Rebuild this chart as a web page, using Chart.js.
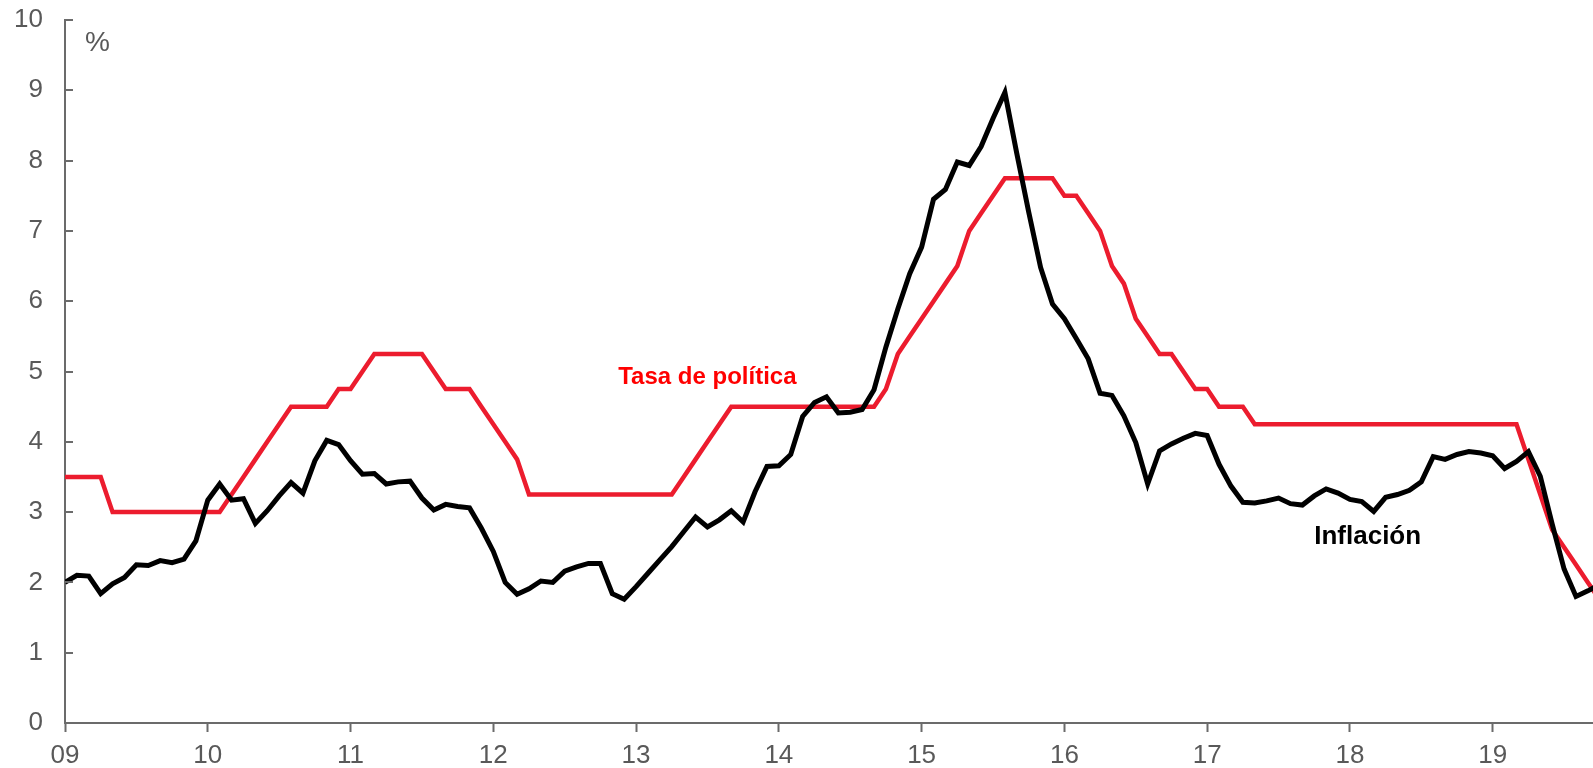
<!DOCTYPE html>
<html>
<head>
<meta charset="utf-8">
<script src="https://cdn.jsdelivr.net/npm/chart.js@4/dist/chart.umd.min.js"></script>
<style>
  html, body { margin: 0; padding: 0; background: #ffffff; }
  canvas { display: block; }
</style>
</head>
<body>
<canvas id="chart" width="1593" height="768"></canvas>
<script>
// ---- Data (monthly, first point = tick "09") ----
const yearLabels = ['09', '10', '11', '12', '13', '14', '15', '16', '17', '18', '19'];
const yTickValues = [0, 1, 2, 3, 4, 5, 6, 7, 8, 9, 10];
const seriesNames = ['Inflación', 'Tasa de política'];

const inflation = [
  2.00,
  2.10, 2.09, 1.84, 1.98, 2.07, 2.25, 2.24, 2.31, 2.28, 2.33, 2.59, 3.17,
  3.40, 3.17, 3.19, 2.84, 3.02, 3.23, 3.42, 3.27, 3.73, 4.02, 3.96, 3.73,
  3.54, 3.55, 3.40, 3.43, 3.44, 3.20, 3.03, 3.11, 3.08, 3.06, 2.77, 2.44,
  2.00, 1.83, 1.91, 2.02, 2.00, 2.16, 2.22, 2.27, 2.27, 1.84, 1.76, 1.94,
  2.13, 2.32, 2.51, 2.72, 2.93, 2.79, 2.89, 3.02, 2.86, 3.29, 3.65, 3.66,
  3.82, 4.36, 4.56, 4.64, 4.41, 4.42, 4.46, 4.74, 5.35, 5.89, 6.39, 6.77,
  7.45, 7.59, 7.98, 7.93, 8.20, 8.60, 8.97, 8.10, 7.27, 6.48, 5.96, 5.75,
  5.47, 5.18, 4.69, 4.66, 4.37, 3.99, 3.40, 3.87, 3.97, 4.05, 4.12, 4.09,
  3.68, 3.37, 3.14, 3.13, 3.16, 3.20, 3.12, 3.10, 3.23, 3.33, 3.27, 3.18,
  3.15, 3.01, 3.21, 3.25, 3.31, 3.43, 3.79, 3.75, 3.82, 3.86, 3.84, 3.80,
  3.62, 3.72, 3.86, 3.51, 2.83, 2.19, 1.80, 1.88, 1.97
];

const policyRate = [
  3.50,
  3.50, 3.50, 3.50, 3.00, 3.00, 3.00, 3.00, 3.00, 3.00, 3.00, 3.00, 3.00,
  3.00, 3.25, 3.50, 3.75, 4.00, 4.25, 4.50, 4.50, 4.50, 4.50, 4.75, 4.75,
  5.00, 5.25, 5.25, 5.25, 5.25, 5.25, 5.00, 4.75, 4.75, 4.75, 4.50, 4.25,
  4.00, 3.75, 3.25, 3.25, 3.25, 3.25, 3.25, 3.25, 3.25, 3.25, 3.25, 3.25,
  3.25, 3.25, 3.25, 3.50, 3.75, 4.00, 4.25, 4.50, 4.50, 4.50, 4.50, 4.50,
  4.50, 4.50, 4.50, 4.50, 4.50, 4.50, 4.50, 4.50, 4.75, 5.25, 5.50, 5.75,
  6.00, 6.25, 6.50, 7.00, 7.25, 7.50, 7.75, 7.75, 7.75, 7.75, 7.75, 7.50,
  7.50, 7.25, 7.00, 6.50, 6.25, 5.75, 5.50, 5.25, 5.25, 5.00, 4.75, 4.75,
  4.50, 4.50, 4.50, 4.25, 4.25, 4.25, 4.25, 4.25, 4.25, 4.25, 4.25, 4.25,
  4.25, 4.25, 4.25, 4.25, 4.25, 4.25, 4.25, 4.25, 4.25, 4.25, 4.25, 4.25,
  4.25, 4.25, 3.75, 3.25, 2.75, 2.50, 2.25, 2.00, 1.75
];

// ---- Styles ----
const AXIS_COLOR = '#6b6b6b';
const LABEL_COLOR = '#595959';
const LINE_RED = '#EC1C2E';
const FONT = "'Liberation Sans', Arial, Helvetica, sans-serif";
const TICK_SIZE = 26;

// text annotations, placed in data coordinates (month index, %)
const annotations = [
  { text: '%', x: 1.68, y: 9.56, color: LABEL_COLOR, weight: 'normal', size: 28 },
  { text: seriesNames[1], x: 46.5, y: 4.82, color: '#FF0000', weight: 'bold', size: 24 },
  { text: seriesNames[0], x: 105.0, y: 2.55, color: '#000000', weight: 'bold', size: 26 }
];

const monthIndex = inflation.map((_, i) => i);
const toPoints = arr => arr.map((v, i) => ({ x: monthIndex[i], y: v }));

const overlayPlugin = {
  id: 'overlay',
  afterDraw(chart) {
    const { ctx, scales: { x, y } } = chart;
    ctx.save();
    // inward y-axis tick marks
    ctx.strokeStyle = AXIS_COLOR;
    ctx.lineWidth = 2;
    y.ticks.forEach(t => {
      const py = Math.round(y.getPixelForValue(t.value));
      ctx.beginPath();
      ctx.moveTo(x.left, py);
      ctx.lineTo(x.left + 8, py);
      ctx.stroke();
    });
    // annotations
    annotations.forEach(a => {
      ctx.font = `${a.weight} ${a.size}px ${FONT}`;
      ctx.fillStyle = a.color;
      ctx.textAlign = 'left';
      ctx.textBaseline = 'alphabetic';
      ctx.fillText(a.text, x.getPixelForValue(a.x), y.getPixelForValue(a.y));
    });
    ctx.restore();
  }
};

new Chart(document.getElementById('chart'), {
  type: 'line',
  data: {
    datasets: [
      {
        label: seriesNames[0],
        data: toPoints(inflation),
        borderColor: '#000000',
        borderWidth: 5,
        pointRadius: 0,
        tension: 0,
        fill: false
      },
      {
        label: seriesNames[1],
        data: toPoints(policyRate),
        borderColor: LINE_RED,
        borderWidth: 4.5,
        pointRadius: 0,
        tension: 0,
        fill: false
      }
    ]
  },
  options: {
    responsive: false,
    animation: false,
    layout: { padding: { top: 20, right: 0, bottom: 0, left: 0 } },
    plugins: {
      legend: { display: false },
      tooltip: { enabled: false },
      title: { display: false }
    },
    scales: {
      x: {
        type: 'linear',
        min: 0,
        max: 128.43,
        afterBuildTicks: s => { s.ticks = yearLabels.map((_, i) => ({ value: i * 12 })); },
        afterFit: s => { s.height = 45; },
        ticks: {
          autoSkip: false,
          maxRotation: 0,
          color: LABEL_COLOR,
          font: { family: FONT, size: TICK_SIZE },
          padding: 8,
          callback: v => yearLabels[Math.round(v / 12)]
        },
        grid: {
          drawOnChartArea: false,
          drawTicks: true,
          tickLength: 9,
          tickColor: AXIS_COLOR,
          tickWidth: 2
        },
        border: { display: true, color: AXIS_COLOR, width: 2 }
      },
      y: {
        min: 0,
        max: 10,
        afterBuildTicks: s => { s.ticks = yTickValues.map(v => ({ value: v })); },
        afterFit: s => { s.width = 65; },
        ticks: {
          color: LABEL_COLOR,
          font: { family: FONT, size: TICK_SIZE },
          padding: 0
        },
        grid: {
          drawOnChartArea: false,
          drawTicks: true,
          tickLength: 22,
          tickColor: 'rgba(0,0,0,0)'
        },
        border: { display: true, color: AXIS_COLOR, width: 2 }
      }
    }
  },
  plugins: [overlayPlugin]
});
</script>
</body>
</html>
